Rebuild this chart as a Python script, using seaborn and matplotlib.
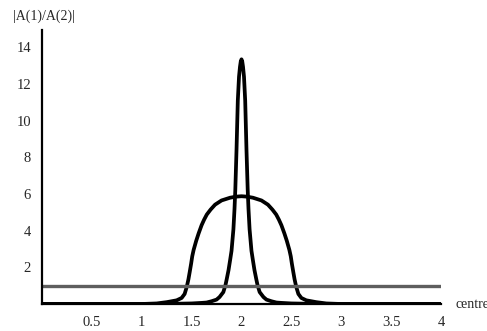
import numpy as np
import matplotlib
matplotlib.use('Agg')
import matplotlib.pyplot as plt
from matplotlib.ticker import MultipleLocator
import seaborn as sns

# values
wide_x = [0.0, 1.0, 1.15, 1.25, 1.35, 1.40, 1.43, 1.452, 1.468, 1.48, 1.495, 1.506, 1.52, 1.546, 1.57, 1.60,
          1.625, 1.652, 1.69, 1.735, 1.8, 1.886, 1.95, 2.0,
          2.05, 2.114, 2.2, 2.265, 2.31, 2.348, 2.375, 2.40, 2.43, 2.454, 2.48, 2.494, 2.505, 2.52, 2.532,
          2.548, 2.57, 2.60, 2.65, 2.75, 2.85, 3.0, 4.0]
wide_y = [0.0, 0.0, 0.03, 0.1, 0.2, 0.33, 0.55, 0.95, 1.35, 1.72, 2.2, 2.6, 2.95, 3.45, 3.85, 4.3,
          4.6, 4.88, 5.15, 5.42, 5.65, 5.8, 5.86, 5.88,
          5.86, 5.8, 5.65, 5.42, 5.15, 4.88, 4.6, 4.3, 3.85, 3.45, 2.95, 2.6, 2.2, 1.72, 1.35,
          0.95, 0.55, 0.33, 0.2, 0.1, 0.03, 0.0, 0.0]

peak_x = [0.0, 1.0, 1.3, 1.5, 1.6, 1.65, 1.7, 1.75, 1.78, 1.818, 1.84, 1.852, 1.87, 1.886, 1.90, 1.919, 1.93,
          1.938, 1.95, 1.963, 1.975, 1.985, 1.993, 2.0, 2.007, 2.015, 2.025, 2.037, 2.05, 2.062, 2.07, 2.081,
          2.10, 2.114, 2.13, 2.148, 2.16, 2.182, 2.22, 2.25, 2.3, 2.35, 2.4, 2.5, 2.7, 3.0, 4.0]
peak_y = [0.0, 0.0, 0.01, 0.03, 0.06, 0.08, 0.15, 0.24, 0.38, 0.65, 1.05, 1.36, 1.85, 2.4, 2.9, 4.08, 5.2,
          6.25, 8.4, 11.1, 12.4, 12.95, 13.25, 13.35, 13.25, 12.95, 12.4, 11.1, 8.4, 6.25, 5.2, 4.08,
          2.9, 2.4, 1.85, 1.36, 1.05, 0.65, 0.38, 0.24, 0.15, 0.08, 0.06, 0.03, 0.01, 0.0, 0.0]

ref_x = [0.0, 4.0]
ref_y = [1.0, 1.0]

x_ticks = [0.5, 1, 1.5, 2, 2.5, 3, 3.5, 4]
x_labels = ['0.5', '1', '1.5', '2', '2.5', '3', '3.5', '4']
y_ticks = [2, 4, 6, 8, 10, 12, 14]

sns.set_style('white')
plt.rcParams['font.family'] = ['Liberation Serif', 'DejaVu Serif']
plt.rcParams['font.size'] = 10

fig = plt.figure(figsize=(4.87, 3.31), dpi=100)
ax = fig.add_axes([42/487, 27/331, 399/487, 274/331])

sns.lineplot(x=wide_x, y=wide_y, ax=ax, color='black', linewidth=2.7, sort=False, estimator=None)
sns.lineplot(x=peak_x, y=peak_y, ax=ax, color='black', linewidth=2.7, sort=False, estimator=None)
sns.lineplot(x=ref_x, y=ref_y, ax=ax, color='#5e5e5e', linewidth=2.4, sort=False, estimator=None)

ax.set_xlim(0, 4)
ax.set_ylim(0, 14.95)
ax.set_xticks(x_ticks)
ax.set_xticklabels(x_labels)
ax.set_yticks(y_ticks)
ax.xaxis.set_minor_locator(MultipleLocator(0.1))
ax.yaxis.set_minor_locator(MultipleLocator(0.5))
ax.tick_params(which='major', direction='in', length=4, width=0.8, color='black', labelsize=10.5)
ax.tick_params(which='minor', direction='in', length=2, width=0.6, color='black')
ax.tick_params(axis='x', which='major', pad=9)
ax.tick_params(axis='y', which='major', pad=8)

for s in ['top', 'right']:
    ax.spines[s].set_visible(False)
for s in ['left', 'bottom']:
    ax.spines[s].set_color('black')
    ax.spines[s].set_linewidth(1.6)

ax.set_xlabel('')
ax.set_ylabel('')
fig.text(13/487, 1 - 16/331, '|A(1)/A(2)|', ha='left', va='center', fontsize=10)
fig.text(455/487, 1 - 304/331, 'centre', ha='left', va='center', fontsize=10)

fig.savefig('out.png', dpi=100)
